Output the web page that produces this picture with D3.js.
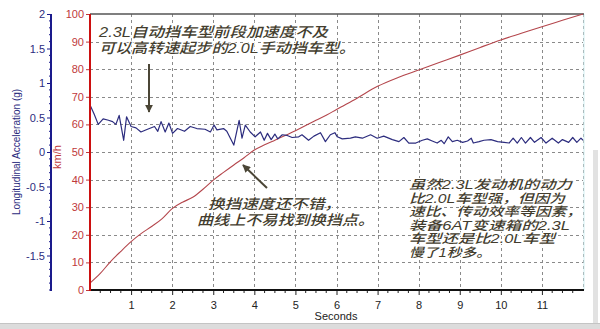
<!DOCTYPE html>
<html><head><meta charset="utf-8">
<script src="https://cdn.jsdelivr.net/npm/d3@7"></script>
<style>
html,body{margin:0;padding:0;background:#fff;}
svg{display:block;}
.tk text{font-family:"Liberation Sans",Arial,sans-serif;font-size:11px;}
.note{font-family:"Liberation Sans","Noto Sans CJK SC",sans-serif;font-size:14px;font-weight:500;font-style:italic;fill:#433d2e;stroke:#fff;stroke-width:2px;paint-order:stroke;stroke-linejoin:round;}
.note.sm{font-size:12.5px;}
</style></head>
<body>
<script>
// ---- data ----
const speedTime = [0,0.25,0.5,0.75,1,1.25,1.5,1.75,2,2.25,2.5,2.75,3,3.25,3.5,3.75,4,4.25,4.5,4.75,5,5.25,5.5,5.75,6,6.5,7,7.5,8,8.5,9,9.5,10,10.5,11,11.5,12];
const speedKmh  = [2.5,6,10.3,14,17.5,20.5,23,25.8,29.5,31.8,33.6,36.5,39.8,42.6,45.3,47.9,50.7,52.6,54.3,56,57.7,59.6,61.5,63.3,65.4,69.5,73.8,77,79.7,82.4,85.1,87.9,90.6,93,95.4,97.7,100];
const accTime = [0,0.1,0.2,0.32,0.45,0.55,0.63,0.71,0.82,0.89,1.0,1.12,1.24,1.4,1.57,1.65,1.73,1.83,1.92,2.01,2.13,2.3,2.44,2.6,2.8,2.93,3.02,3.09,3.25,3.33,3.5,3.63,3.7,3.78,3.9,4.02,4.15,4.24,4.32,4.41,4.5,4.57,4.68,4.8,4.92,5.08,5.16,5.32,5.45,5.61,5.73,5.85,5.96,6.02,6.14,6.34,6.46,6.63,6.83,6.99,7.15,7.36,7.52,7.64,7.76,7.93,8.09,8.21,8.33,8.45,8.55,8.62,8.72,8.82,8.94,9.07,9.19,9.28,9.33,9.47,9.59,9.76,9.92,10.08,10.2,10.3,10.4,10.5,10.6,10.72,10.82,10.98,11.1,11.25,11.4,11.5,11.65,11.75,11.85,11.95,12.0];
const accG = [0.68,0.55,0.40,0.48,0.46,0.44,0.40,0.53,0.17,0.51,0.37,0.35,0.29,0.33,0.37,0.30,0.44,0.29,0.42,0.27,0.34,0.30,0.37,0.34,0.33,0.29,0.39,0.32,0.34,0.30,0.10,0.46,0.20,0.39,0.29,0.22,0.29,0.17,0.27,0.18,0.26,0.19,0.25,0.24,0.21,0.22,0.25,0.17,0.23,0.28,0.15,0.25,0.28,0.22,0.19,0.20,0.22,0.20,0.25,0.20,0.23,0.18,0.15,0.21,0.13,0.13,0.17,0.19,0.16,0.13,0.17,0.12,0.22,0.15,0.17,0.14,0.16,0.20,0.13,0.15,0.17,0.18,0.15,0.14,0.13,0.20,0.13,0.21,0.13,0.21,0.14,0.21,0.13,0.20,0.13,0.18,0.14,0.21,0.14,0.20,0.17];
const xTicks = [1,2,3,4,5,6,7,8,9,10,11];
const speedTicks = [0,10,20,30,40,50,60,70,80,90,100];
const accTicks = [-1.5,-1,-0.5,0,0.5,1,1.5,2];
const xTitle = "Seconds";
const accTitle = "Longitudinal Acceleration (g)";
const speedTitle = "km/h";
const noteTop = ["2.3L自动挡车型前段加速度不及","可以高转速起步的2.0L手动挡车型。"];
const noteMid = ["换挡速度还不错，","曲线上不易找到换挡点。"];
const noteRight = ["虽然2.3L发动机的动力","比2.0L车型强，但因为","速比、传动效率等因素，","装备6AT变速箱的2.3L","车型还是比2.0L车型","慢了1秒多。"];

// ---- layout ----
const W=600,H=329;
const svg=d3.select("body").append("svg").attr("width",W).attr("height",H);
const x=d3.scaleLinear().domain([0,12]).range([90,583]);
const yS=d3.scaleLinear().domain([0,100]).range([290,14]);
const yA=d3.scaleLinear().domain([-2,2]).range([290,14]);

// bottom / right shading
svg.append("rect").attr("x",0).attr("y",323).attr("width",W).attr("height",6).attr("fill","#dcdcdc");
svg.append("line").attr("x1",0).attr("x2",W).attr("y1",323.5).attr("y2",323.5).attr("stroke","#c4c4c4");
svg.append("rect").attr("x",593).attr("y",150).attr("width",5).attr("height",173).attr("fill","#e2e2e2");

// grid
const grid=svg.append("g").attr("stroke","#8a8a8a").attr("stroke-dasharray","3,3").attr("stroke-width",1);
grid.selectAll(".v").data(d3.range(1,13)).join("line")
  .attr("x1",d=>Math.round(x(d))+0.5).attr("x2",d=>Math.round(x(d))+0.5).attr("y1",14).attr("y2",290);
grid.selectAll(".h").data(speedTicks.filter(d=>d>0&&d<100)).join("line")
  .attr("x1",90).attr("x2",583).attr("y1",d=>Math.round(yS(d))+0.5).attr("y2",d=>Math.round(yS(d))+0.5);
svg.append("line").attr("x1",584).attr("x2",584).attr("y1",14).attr("y2",290).attr("stroke","#cfeff2").attr("stroke-width",1);

// top border
svg.append("line").attr("x1",90).attr("x2",584).attr("y1",14).attr("y2",14).attr("stroke","#555").attr("stroke-width",1.5);

// series
const speedLine=d3.line().x((d,i)=>x(speedTime[i])).y(d=>yS(d)).curve(d3.curveMonotoneX);
svg.append("path").attr("d",speedLine(speedKmh)).attr("fill","none").attr("stroke","#b4464c").attr("stroke-width",1.1);
const accLine=d3.line().x((d,i)=>x(accTime[i])).y(d=>yA(d));
svg.append("path").attr("d",accLine(accG)).attr("fill","none").attr("stroke","#2c2c7e").attr("stroke-width",1.2).attr("stroke-linejoin","round");

// x axis
const xa=svg.append("g").attr("class","tk").attr("transform","translate(0,290)")
  .call(d3.axisBottom(x).tickValues(xTicks).tickSize(5).tickPadding(6).tickFormat(d=>String(d)));
xa.select(".domain").remove();
xa.selectAll("text").attr("fill","#222");
xa.selectAll("line").attr("stroke","#222");
svg.append("g").selectAll("line").data(d3.range(0,12.01,0.25).filter(d=>d%1!==0)).join("line")
  .attr("x1",d=>x(d)).attr("x2",d=>x(d)).attr("y1",290).attr("y2",293).attr("stroke","#222");
svg.append("line").attr("x1",89).attr("x2",584).attr("y1",290).attr("y2",290).attr("stroke","#111").attr("stroke-width",2);
svg.append("text").attr("x",336).attr("y",320).attr("text-anchor","middle")
  .attr("font-family","Liberation Sans, Arial, sans-serif").attr("font-size",11).attr("fill","#222").text(xTitle);

// speed axis
const sa=svg.append("g").attr("class","tk").attr("transform","translate(90,0)")
  .call(d3.axisLeft(yS).tickValues(speedTicks).tickSize(4).tickPadding(2).tickFormat(d=>String(d)));
sa.select(".domain").remove();
sa.selectAll("text").attr("fill","#c0393b");
sa.selectAll("line").attr("stroke","#c0393b");
svg.append("line").attr("x1",90).attr("x2",90).attr("y1",14).attr("y2",291).attr("stroke","#cc1010").attr("stroke-width",2);
svg.append("text").attr("transform","translate(61,157) rotate(-90)").attr("text-anchor","middle")
  .attr("font-family","Liberation Sans, Arial, sans-serif").attr("font-size",11).attr("fill","#c0393b").text(speedTitle);

// acceleration axis
const aa=svg.append("g").attr("class","tk").attr("transform","translate(51,0)")
  .call(d3.axisLeft(yA).tickValues(accTicks).tickSize(4).tickPadding(2).tickFormat(d=>String(d)));
aa.select(".domain").remove();
aa.selectAll("text").attr("fill","#2c2c7e");
aa.selectAll("line").attr("stroke","#1a1a8c");
svg.append("g").selectAll("line").data(d3.range(-2,2.001,0.1).map(d=>+d.toFixed(1)).filter(d=>accTicks.indexOf(d)<0))
  .join("line").attr("x1",49).attr("x2",51).attr("y1",d=>yA(d)).attr("y2",d=>yA(d)).attr("stroke","#1a1a8c");
svg.append("line").attr("x1",51).attr("x2",51).attr("y1",14).attr("y2",291).attr("stroke","#1a1a8c").attr("stroke-width",2);
svg.append("text").attr("transform","translate(20,152) rotate(-90)").attr("text-anchor","middle")
  .attr("font-family","Liberation Sans, Arial, sans-serif").attr("font-size",10).attr("fill","#2c2c7e").text(accTitle);

// arrows
const defs=svg.append("defs");
defs.append("marker").attr("id","ah").attr("viewBox","0 0 10 10").attr("refX",9).attr("refY",5)
  .attr("markerWidth",4).attr("markerHeight",4).attr("orient","auto")
  .append("path").attr("d","M0,0L10,5L0,10z").attr("fill","#4b4636");
svg.append("line").attr("x1",149).attr("y1",64).attr("x2",149).attr("y2",112)
  .attr("stroke","#4b4636").attr("stroke-width",2).attr("marker-end","url(#ah)");
svg.append("line").attr("x1",267).attr("y1",188).attr("x2",243).attr("y2",165)
  .attr("stroke","#4b4636").attr("stroke-width",2).attr("marker-end","url(#ah)");

// notes
function note(lines,xs,ys,lens,cls){
  lines.forEach((t,i)=>{
    svg.append("text").attr("class","note"+(cls?" "+cls:"")).attr("x",xs[i]).attr("y",ys[i])
      .attr("textLength",lens[i]).attr("lengthAdjust","spacingAndGlyphs").text(t);
  });
}
note(noteTop,[99,99],[37,53],[229,256]);
note(noteMid,[208,197],[209,225],[133,177]);
note(noteRight,[409,409,409,409,409,409],[189,202.5,216,229.5,243,256.5],[163,156,173,161,146,82],"sm");
</script>
</body></html>
